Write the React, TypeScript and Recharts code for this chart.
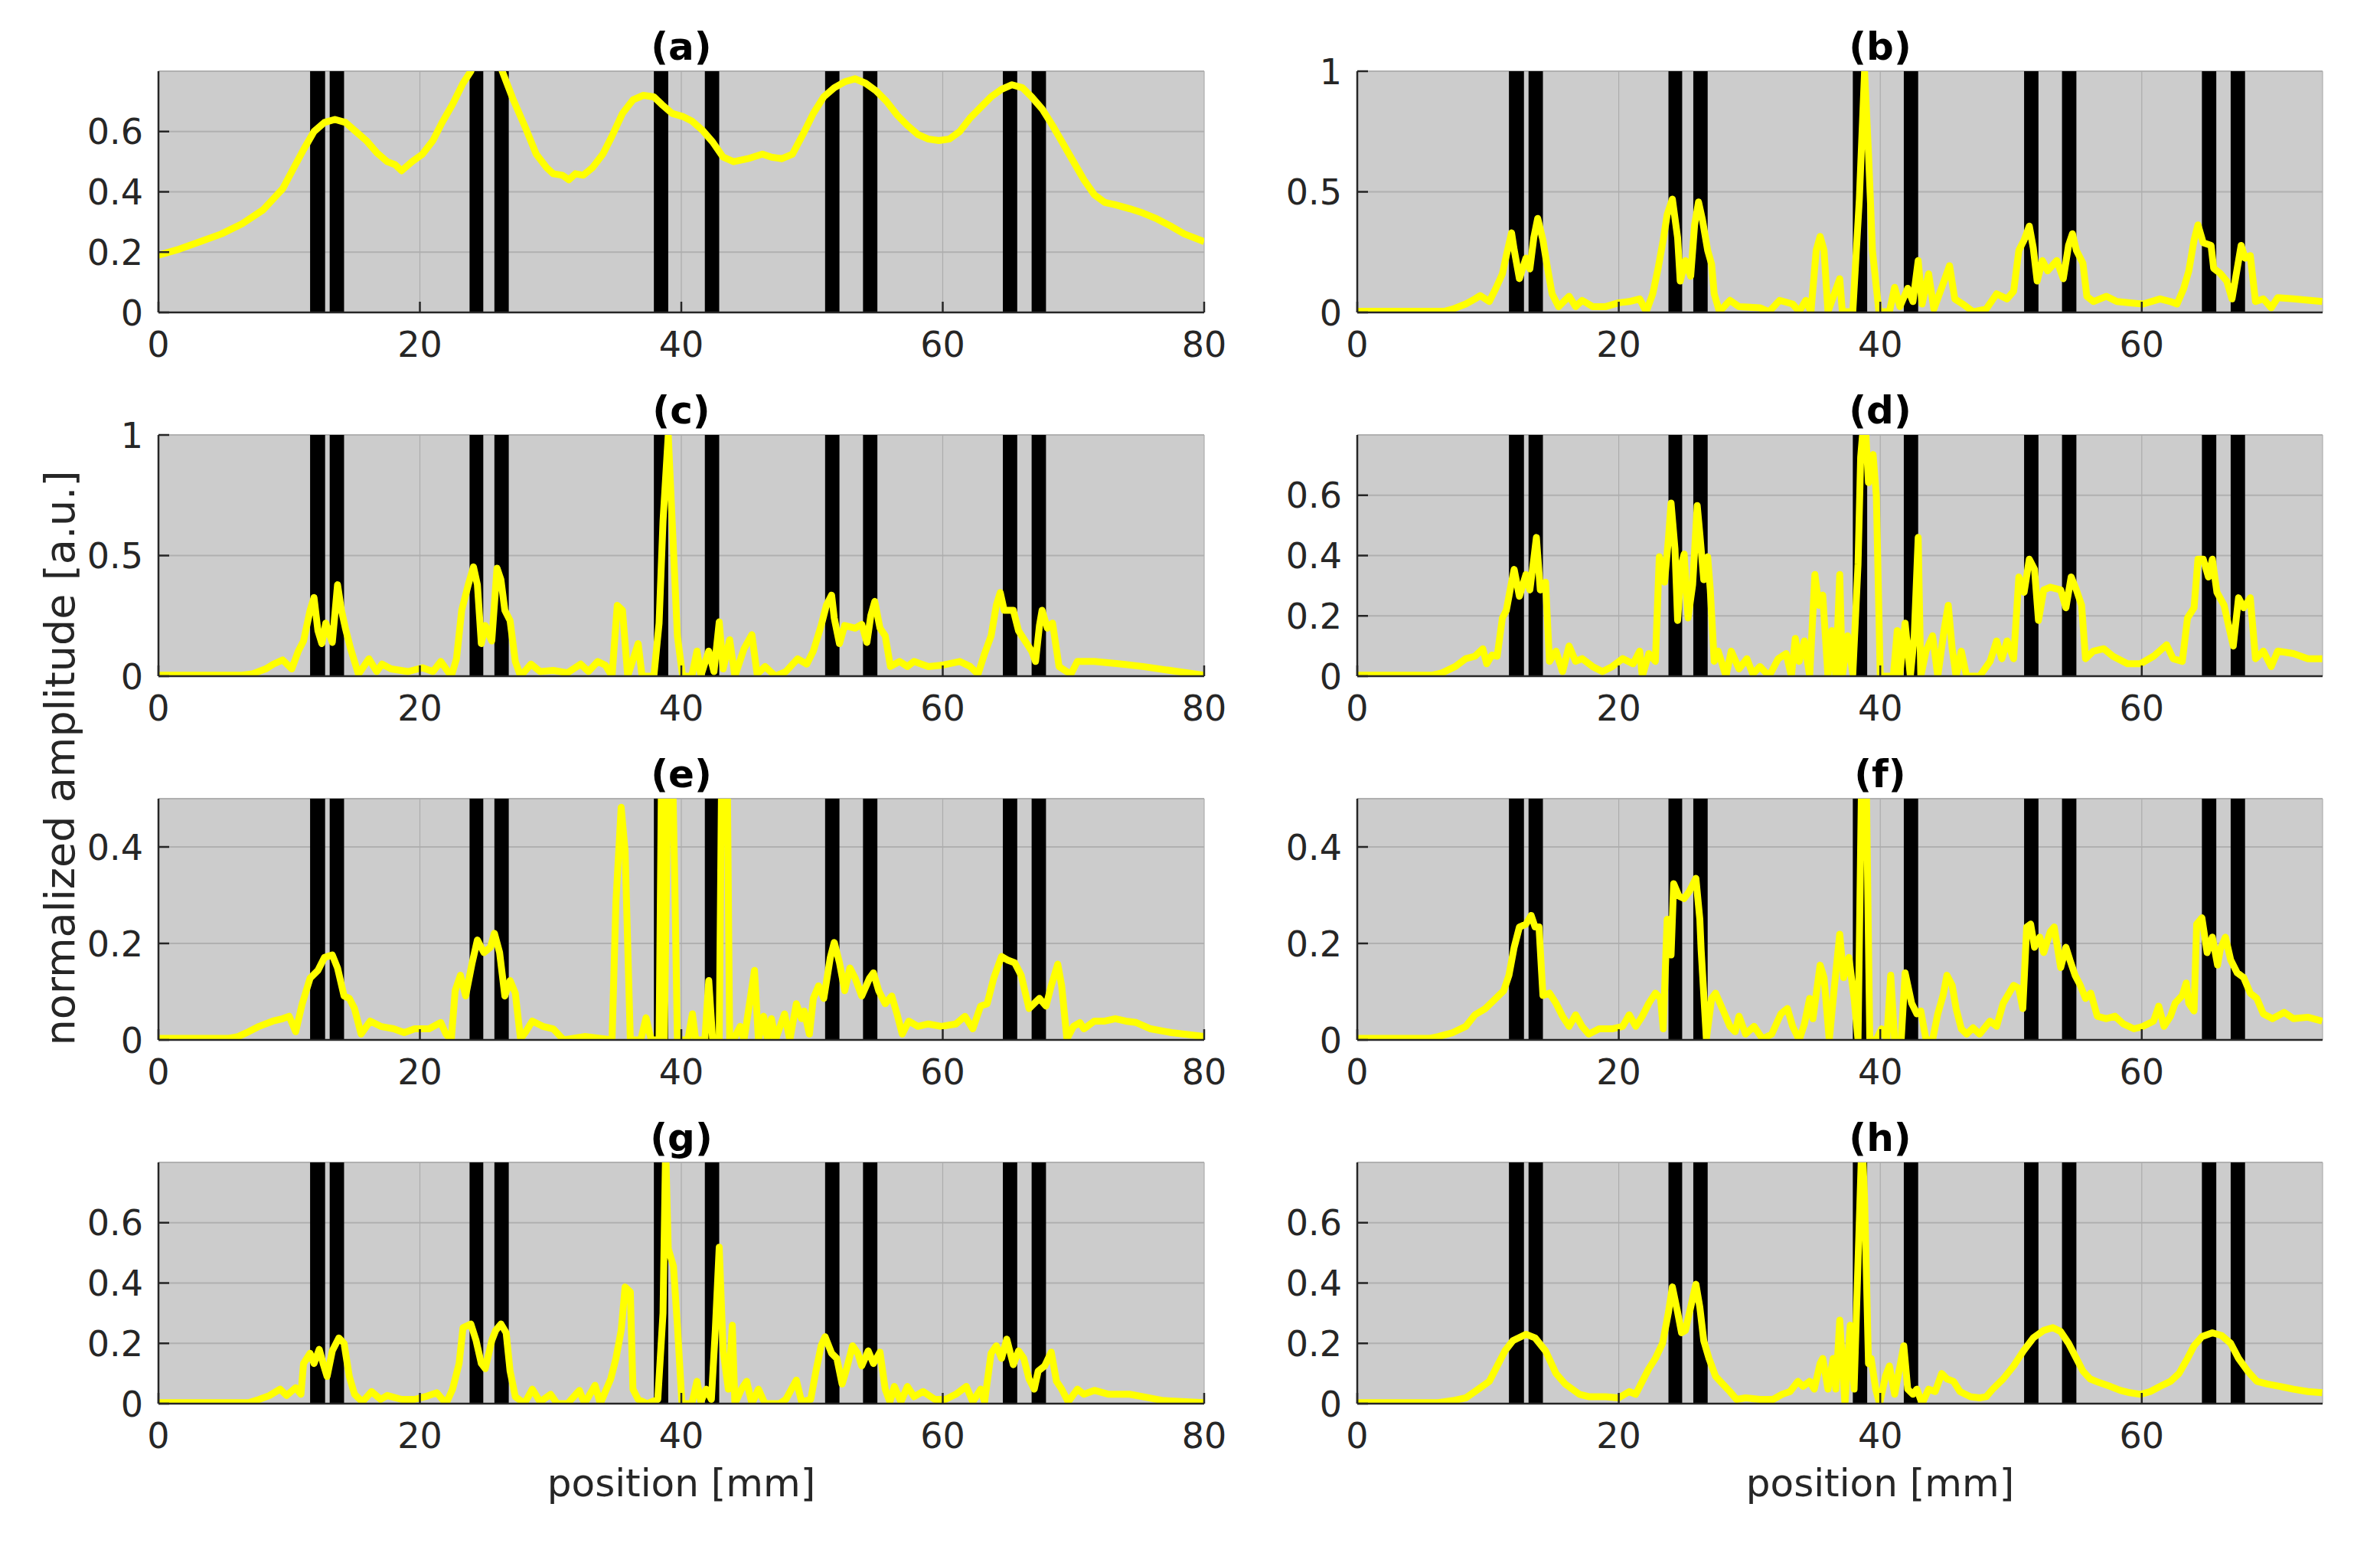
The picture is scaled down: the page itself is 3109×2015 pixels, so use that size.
import { useMemo } from 'react';
import { LineChart, Line, XAxis, YAxis, CartesianGrid, ReferenceArea } from 'recharts';

const FONT = '"DejaVu Sans", sans-serif';
const INK = '#262626';

// slit edges [mm]
const slitStart = [11.6, 13.1, 23.8, 25.7, 37.9, 41.8, 51.0, 53.9, 64.6, 66.8];
const slitEnd = [12.75, 14.2, 24.85, 26.8, 39.0, 42.9, 52.1, 55.0, 65.7, 67.9];

const xTicksLeft = [0, 20, 40, 60, 80];
const xTicksRight = [0, 20, 40, 60];
const yTicks08 = [0, 0.2, 0.4, 0.6];
const yTicks1 = [0, 0.5, 1];
const yTicks05 = [0, 0.2, 0.4];

const panelA: [number, number][] = [
  [0, 0.19], [1.6, 0.21], [3.2, 0.235], [4.8, 0.26], [6.4, 0.294], [8.0, 0.34], [9.5, 0.41], [10.3, 0.475],
  [11.1, 0.54], [11.9, 0.6], [12.7, 0.63], [13.5, 0.64], [14.3, 0.63], [15.1, 0.6], [15.9, 0.57], [16.7, 0.53],
  [17.5, 0.5], [18.1, 0.49], [18.6, 0.47], [19.4, 0.5], [20.2, 0.525], [21.0, 0.57], [21.7, 0.63], [22.5, 0.69],
  [23.3, 0.76], [23.9, 0.8], [24.5, 0.88], [25.2, 0.92], [25.8, 0.88], [26.3, 0.8], [27.1, 0.71], [28.1, 0.61],
  [28.9, 0.525], [29.7, 0.48], [30.2, 0.46], [30.9, 0.455], [31.4, 0.44], [31.9, 0.46], [32.5, 0.455], [33.2, 0.48],
  [34.0, 0.525], [34.7, 0.585], [35.5, 0.66], [36.3, 0.705], [37.1, 0.72], [37.9, 0.715], [38.5, 0.69], [39.3, 0.66],
  [40.1, 0.65], [40.8, 0.635], [41.6, 0.605], [42.4, 0.565], [43.2, 0.515], [44.0, 0.5], [45.1, 0.51], [46.2, 0.525],
  [46.9, 0.515], [47.7, 0.51], [48.5, 0.525], [49.3, 0.59], [50.1, 0.66], [50.9, 0.715], [51.7, 0.745], [52.5, 0.765],
  [53.3, 0.775], [54.1, 0.76], [54.9, 0.735], [55.7, 0.7], [56.5, 0.655], [57.3, 0.62], [58.1, 0.59], [58.9, 0.575],
  [59.7, 0.57], [60.5, 0.575], [61.3, 0.6], [62.1, 0.645], [62.9, 0.68], [63.7, 0.715], [64.5, 0.74], [65.3, 0.755],
  [66.1, 0.745], [66.8, 0.715], [67.6, 0.675], [68.4, 0.62], [69.2, 0.56], [70.0, 0.5], [70.8, 0.44], [71.6, 0.39],
  [72.4, 0.365], [73.2, 0.357], [74.3, 0.344], [75.3, 0.33], [76.4, 0.31], [77.5, 0.285], [78.5, 0.26], [80, 0.235],
];

const panelB: [number, number][] = [
  [0, 0.005], [6.7, 0.005], [7.3, 0.014], [8.3, 0.035], [9.0, 0.056], [9.4, 0.07], [10.1, 0.045], [10.6, 0.1],
  [11.1, 0.16], [11.4, 0.236], [11.8, 0.33], [12.0, 0.26], [12.4, 0.14], [12.9, 0.225], [13.2, 0.18], [13.5, 0.31],
  [13.8, 0.39], [14.2, 0.3], [14.5, 0.2], [14.9, 0.077], [15.4, 0.024], [16.2, 0.067], [16.7, 0.024], [17.2, 0.05],
  [18.0, 0.024], [19.0, 0.024], [20.0, 0.04], [20.8, 0.045], [21.6, 0.056], [22.1, 0.003], [22.6, 0.077], [23.0, 0.18],
  [23.4, 0.3], [23.7, 0.405], [24.1, 0.47], [24.5, 0.31], [24.7, 0.13], [25.1, 0.215], [25.5, 0.15], [25.8, 0.363],
  [26.1, 0.458], [26.4, 0.384], [26.8, 0.257], [27.1, 0.2], [27.3, 0.077], [27.7, 0.003], [28.5, 0.05], [29.2, 0.024],
  [30.8, 0.019], [31.5, 0.003], [32.3, 0.05], [33.3, 0.035], [33.8, 0.003], [34.3, 0.05], [34.7, 0.003], [35.1, 0.257],
  [35.4, 0.315], [35.7, 0.257], [36.0, 0.003], [36.9, 0.14], [37.1, 0.003], [37.9, 0.003], [38.4, 0.47], [38.8, 1.0],
  [39.1, 0.66], [39.4, 0.257], [39.9, 0.003], [40.7, 0.003], [41.1, 0.104], [41.5, 0.024], [42.1, 0.1], [42.5, 0.045],
  [42.9, 0.215], [43.2, 0.035], [43.7, 0.16], [44.1, 0.014], [44.6, 0.088], [45.3, 0.194], [45.7, 0.056], [46.3, 0.035],
  [47.1, 0.003], [48.1, 0.014], [48.9, 0.077], [49.7, 0.056], [50.2, 0.088], [50.6, 0.257], [51.0, 0.3], [51.4, 0.358],
  [51.7, 0.268], [52.0, 0.13], [52.4, 0.215], [52.8, 0.172], [53.5, 0.215], [54.0, 0.14], [54.4, 0.278], [54.7, 0.326],
  [55.0, 0.257], [55.5, 0.204], [55.8, 0.067], [56.3, 0.045], [57.3, 0.067], [58.1, 0.045], [59.1, 0.04], [60.1, 0.035],
  [61.4, 0.056], [62.2, 0.045], [62.7, 0.035], [63.2, 0.098], [63.6, 0.172], [64.0, 0.3], [64.3, 0.363], [64.7, 0.289],
  [65.3, 0.278], [65.5, 0.183], [66.0, 0.162], [66.5, 0.13], [66.9, 0.056], [67.2, 0.15], [67.6, 0.278], [67.9, 0.225],
  [68.3, 0.236], [68.7, 0.045], [69.3, 0.056], [69.9, 0.019], [70.4, 0.061], [71.6, 0.056], [73.8, 0.045],
];

const panelC: [number, number][] = [
  [0, 0.004], [6.4, 0.004], [7.2, 0.01], [8.2, 0.03], [8.8, 0.05], [9.5, 0.067], [10.2, 0.03], [10.7, 0.104],
  [11.1, 0.146], [11.6, 0.273], [11.9, 0.326], [12.2, 0.188], [12.5, 0.135], [12.8, 0.22], [13.3, 0.14], [13.7, 0.379],
  [14.0, 0.273], [14.3, 0.199], [14.7, 0.114], [15.3, 0.008], [16.1, 0.072], [16.7, 0.019], [17.1, 0.05], [17.8, 0.03],
  [19.1, 0.019], [20.2, 0.035], [21.0, 0.019], [21.6, 0.061], [22.4, 0.0], [22.8, 0.072], [23.2, 0.273], [23.7, 0.379],
  [24.1, 0.453], [24.4, 0.379], [24.7, 0.135], [25.0, 0.21], [25.5, 0.146], [25.9, 0.448], [26.2, 0.4], [26.5, 0.273],
  [26.9, 0.23], [27.3, 0.061], [27.7, 0.0], [28.5, 0.05], [29.2, 0.019], [30.2, 0.024], [31.3, 0.014], [32.3, 0.05],
  [32.9, 0.019], [33.6, 0.061], [34.2, 0.045], [34.7, 0.0], [35.1, 0.294], [35.5, 0.273], [35.9, 0.0], [36.7, 0.135],
  [37.0, 0.0], [37.9, 0.0], [38.3, 0.22], [38.6, 0.643], [39.0, 1.0], [39.3, 0.643], [39.7, 0.167], [40.1, 0.0],
  [40.8, 0.0], [41.2, 0.104], [41.5, 0.003], [42.1, 0.104], [42.5, 0.019], [42.9, 0.225], [43.2, 0.03], [43.7, 0.151],
  [44.1, 0.0], [44.8, 0.114], [45.4, 0.172], [45.8, 0.008], [46.4, 0.04], [47.2, 0.0], [48.0, 0.019], [48.9, 0.072],
  [49.6, 0.05], [50.1, 0.104], [50.7, 0.21], [51.1, 0.294], [51.5, 0.336], [51.7, 0.241], [52.1, 0.135], [52.5, 0.21],
  [53.3, 0.199], [53.8, 0.215], [54.2, 0.14], [54.5, 0.252], [54.8, 0.31], [55.2, 0.199], [55.6, 0.167], [56.0, 0.04],
  [56.7, 0.061], [57.3, 0.04], [57.8, 0.061], [58.9, 0.04], [59.9, 0.045], [61.3, 0.061], [62.1, 0.04], [62.7, 0.008],
  [63.2, 0.093], [63.7, 0.167], [64.1, 0.294], [64.4, 0.347], [64.7, 0.273], [65.4, 0.273], [65.8, 0.188], [66.3, 0.146],
  [66.8, 0.104], [67.1, 0.061], [67.4, 0.21], [67.6, 0.273], [68.0, 0.199], [68.4, 0.22], [68.9, 0.04], [69.8, 0.008],
  [70.3, 0.061], [71.6, 0.061], [73.7, 0.05], [75.3, 0.04], [78.0, 0.019], [80, 0.004],
];

const panelD: [number, number][] = [
  [0, 0.003], [5.7, 0.003], [6.5, 0.011], [7.5, 0.032], [8.3, 0.058], [9.0, 0.066], [9.6, 0.091], [9.9, 0.041],
  [10.3, 0.07], [10.7, 0.066], [11.1, 0.193], [11.4, 0.218], [11.75, 0.3], [12.0, 0.354], [12.4, 0.265], [12.9, 0.337],
  [13.2, 0.286], [13.5, 0.388], [13.7, 0.46], [14.0, 0.286], [14.4, 0.312], [14.7, 0.049], [15.2, 0.083], [15.7, 0.015],
  [16.2, 0.1], [16.7, 0.049], [17.2, 0.058], [18.0, 0.032], [18.75, 0.015], [19.5, 0.032], [20.3, 0.058], [21.1, 0.041],
  [21.6, 0.083], [21.8, 0.0], [22.3, 0.075], [22.8, 0.049], [23.1, 0.396], [23.5, 0.312], [23.8, 0.456], [24.0, 0.574],
  [24.3, 0.422], [24.5, 0.185], [24.8, 0.371], [25.0, 0.405], [25.3, 0.193], [25.65, 0.303], [26.0, 0.566], [26.2, 0.472],
  [26.5, 0.32], [26.8, 0.396], [27.0, 0.286], [27.3, 0.049], [27.6, 0.083], [28.2, 0.0], [28.6, 0.083], [29.2, 0.024],
  [29.8, 0.058], [30.25, 0.007], [30.8, 0.032], [31.5, 0.0], [32.2, 0.058], [32.8, 0.075], [33.2, 0.0], [33.5, 0.125],
  [33.8, 0.049], [34.2, 0.117], [34.6, 0.0], [35.0, 0.337], [35.3, 0.235], [35.6, 0.269], [36.0, 0.0], [36.3, 0.151],
  [36.6, 0.0], [36.9, 0.337], [37.1, 0.0], [37.5, 0.134], [37.9, 0.007], [38.3, 0.371], [38.5, 0.726], [38.8, 0.88],
  [39.1, 0.642], [39.45, 0.735], [39.7, 0.6], [40.0, 0.0], [41.0, 0.0], [41.3, 0.151], [41.5, 0.007], [41.9, 0.176],
  [42.3, 0.0], [42.6, 0.134], [42.9, 0.46], [43.1, 0.0], [43.5, 0.083], [44.0, 0.134], [44.4, 0.0], [44.9, 0.159],
  [45.2, 0.235], [45.5, 0.091], [45.8, 0.0], [46.2, 0.083], [46.6, 0.0], [47.6, 0.0], [48.4, 0.049], [48.9, 0.117],
  [49.3, 0.058], [49.7, 0.117], [50.2, 0.058], [50.6, 0.329], [51.0, 0.278], [51.4, 0.388], [51.8, 0.354], [52.1, 0.185],
  [52.5, 0.286], [53.0, 0.295], [53.8, 0.286], [54.2, 0.227], [54.6, 0.329], [55.0, 0.286], [55.4, 0.235], [55.7, 0.058],
  [56.3, 0.083], [57.1, 0.091], [57.8, 0.066], [58.9, 0.041], [59.9, 0.041], [60.9, 0.066], [61.9, 0.104], [62.4, 0.058],
  [63.1, 0.049], [63.5, 0.193], [64.0, 0.227], [64.3, 0.388], [64.7, 0.388], [65.1, 0.329], [65.4, 0.388], [65.75, 0.278],
  [66.3, 0.235], [66.6, 0.176], [67.0, 0.1], [67.4, 0.26], [67.8, 0.227], [68.3, 0.26], [68.7, 0.058], [69.3, 0.083],
  [69.9, 0.032], [70.4, 0.083], [71.6, 0.075], [72.7, 0.058], [73.8, 0.058],
];

const panelE: [number, number][] = [
  [0, 0.003], [5.3, 0.003], [6.1, 0.007], [6.9, 0.017], [7.7, 0.028], [8.75, 0.039], [9.5, 0.044], [10.0, 0.049],
  [10.5, 0.017], [11.0, 0.075], [11.6, 0.128], [12.2, 0.144], [12.7, 0.171], [13.3, 0.176], [13.7, 0.149], [14.2, 0.091],
  [14.6, 0.086], [15.0, 0.065], [15.5, 0.012], [16.2, 0.039], [17.0, 0.028], [18.0, 0.023], [18.8, 0.015], [19.6, 0.023],
  [20.7, 0.023], [21.6, 0.036], [22.0, 0.012], [22.4, 0.0], [22.7, 0.102], [23.1, 0.134], [23.5, 0.091], [24.0, 0.16],
  [24.4, 0.207], [24.9, 0.181], [25.4, 0.192], [25.7, 0.221], [26.1, 0.181], [26.5, 0.091], [26.9, 0.123], [27.3, 0.097],
  [27.7, 0.002], [28.1, 0.017], [28.6, 0.039], [29.4, 0.028], [30.2, 0.023], [31.0, 0.0], [32.6, 0.007], [34.7, 0.0],
  [35.0, 0.287], [35.4, 0.482], [35.7, 0.392], [36.1, 0.0], [36.9, 0.0], [37.3, 0.046], [37.7, 0.0], [38.3, 0.0],
  [38.5, 0.6], [38.7, 0.0], [39.0, 0.6], [39.3, 0.6], [39.5, 0.33], [39.7, 0.0], [40.5, 0.0], [40.85, 0.054],
  [41.1, 0.0], [41.8, 0.0], [42.1, 0.123], [42.4, 0.0], [42.9, 0.0], [43.1, 0.6], [43.5, 0.6], [43.7, 0.0],
  [44.0, 0.0], [44.5, 0.028], [44.8, 0.0], [45.6, 0.144], [45.9, 0.0], [46.3, 0.049], [46.6, 0.0], [46.9, 0.044],
  [47.2, 0.0], [47.9, 0.054], [48.3, 0.0], [48.8, 0.075], [49.2, 0.044], [49.4, 0.06], [49.8, 0.012], [50.1, 0.086],
  [50.5, 0.112], [50.9, 0.086], [51.4, 0.171], [51.7, 0.202], [52.1, 0.16], [52.5, 0.102], [52.9, 0.149], [53.3, 0.128],
  [53.8, 0.091], [54.4, 0.128], [54.7, 0.139], [55.1, 0.102], [55.6, 0.075], [56.1, 0.091], [56.5, 0.054], [56.9, 0.012],
  [57.4, 0.039], [58.1, 0.028], [58.9, 0.033], [59.9, 0.028], [61.0, 0.033], [61.7, 0.049], [62.3, 0.023], [62.9, 0.07],
  [63.4, 0.075], [63.9, 0.128], [64.5, 0.173], [65.0, 0.165], [65.5, 0.16], [66.0, 0.134], [66.6, 0.065], [66.9, 0.073],
  [67.4, 0.086], [67.9, 0.07], [68.3, 0.112], [68.8, 0.157], [69.1, 0.112], [69.5, 0.002], [70.0, 0.028], [70.5, 0.036],
  [70.8, 0.023], [71.6, 0.039], [72.4, 0.039], [73.2, 0.044], [74.0, 0.039], [74.8, 0.036], [75.9, 0.023], [77.5, 0.015],
  [80, 0.007],
];

const panelF: [number, number][] = [
  [0, 0.003], [5.5, 0.003], [6.2, 0.007], [7.3, 0.015], [8.3, 0.028], [9.0, 0.052], [9.8, 0.065], [10.6, 0.086],
  [11.2, 0.102], [11.6, 0.134], [12.0, 0.192], [12.4, 0.234], [12.9, 0.24], [13.3, 0.258], [13.6, 0.234], [13.9, 0.234],
  [14.2, 0.092], [14.7, 0.097], [15.2, 0.076], [15.7, 0.049], [16.2, 0.028], [16.7, 0.052], [17.2, 0.028], [17.7, 0.012],
  [18.5, 0.023], [19.5, 0.023], [20.3, 0.028], [20.8, 0.052], [21.3, 0.028], [21.8, 0.049], [22.3, 0.076], [22.8, 0.097],
  [23.2, 0.086], [23.4, 0.023], [23.7, 0.25], [24.0, 0.176], [24.2, 0.324], [24.6, 0.298], [25.0, 0.293], [25.4, 0.308],
  [25.9, 0.335], [26.2, 0.25], [26.3, 0.187], [26.7, 0.002], [27.1, 0.086], [27.4, 0.097], [28.0, 0.06], [28.5, 0.028],
  [28.9, 0.017], [29.2, 0.049], [29.7, 0.012], [30.35, 0.028], [31.0, 0.002], [31.7, 0.012], [32.4, 0.054], [32.9, 0.065],
  [33.3, 0.028], [33.8, 0.0], [34.2, 0.033], [34.6, 0.086], [34.85, 0.044], [35.4, 0.155], [35.7, 0.129], [36.1, 0.0],
  [36.5, 0.113], [36.9, 0.219], [37.2, 0.129], [37.6, 0.171], [38.0, 0.086], [38.3, 0.0], [38.6, 0.6], [38.9, 0.6],
  [39.2, 0.0], [39.7, 0.0], [40.1, 0.023], [40.5, 0.0], [40.8, 0.134], [41.1, 0.0], [41.6, 0.0], [41.9, 0.139],
  [42.4, 0.076], [42.8, 0.054], [43.1, 0.06], [43.5, 0.0], [44.0, 0.0], [44.4, 0.054], [44.8, 0.092], [45.1, 0.134],
  [45.5, 0.113], [45.8, 0.065], [46.2, 0.023], [46.6, 0.012], [47.1, 0.025], [47.6, 0.012], [48.4, 0.039], [48.9, 0.028],
  [49.4, 0.076], [50.2, 0.113], [50.6, 0.107], [50.9, 0.065], [51.2, 0.234], [51.5, 0.24], [51.8, 0.192], [52.2, 0.213],
  [52.5, 0.181], [53.0, 0.224], [53.3, 0.234], [53.8, 0.15], [54.2, 0.192], [54.5, 0.166], [54.9, 0.134], [55.3, 0.113],
  [55.7, 0.086], [56.1, 0.097], [56.6, 0.049], [57.3, 0.044], [57.95, 0.049], [58.6, 0.033], [59.4, 0.023], [60.1, 0.028],
  [60.9, 0.039], [61.3, 0.07], [61.7, 0.028], [62.2, 0.049], [62.55, 0.076], [63.1, 0.092], [63.4, 0.118], [63.6, 0.076],
  [64.0, 0.06], [64.2, 0.24], [64.6, 0.253], [65.0, 0.181], [65.4, 0.213], [65.8, 0.155], [66.0, 0.187], [66.4, 0.213],
  [66.8, 0.166], [67.3, 0.139], [67.8, 0.129], [68.3, 0.097], [68.8, 0.086], [69.3, 0.054], [70.0, 0.044], [70.9, 0.057],
  [71.6, 0.044], [72.7, 0.047], [73.8, 0.039],
];

const panelG: [number, number][] = [
  [0, 0.003], [6.9, 0.003], [7.7, 0.014], [8.5, 0.027], [9.3, 0.048], [9.8, 0.027], [10.5, 0.053], [10.9, 0.031],
  [11.1, 0.133], [11.6, 0.167], [11.9, 0.133], [12.3, 0.18], [12.6, 0.133], [12.9, 0.09], [13.3, 0.175], [13.8, 0.218],
  [14.2, 0.2], [14.6, 0.09], [15.0, 0.031], [15.6, 0.006], [16.3, 0.04], [17.0, 0.014], [17.5, 0.027], [18.6, 0.014],
  [19.6, 0.014], [20.4, 0.023], [21.3, 0.036], [22.0, 0.0], [22.5, 0.048], [23.0, 0.133], [23.3, 0.252], [23.9, 0.264],
  [24.3, 0.209], [24.7, 0.133], [25.0, 0.116], [25.5, 0.209], [25.8, 0.243], [26.2, 0.264], [26.6, 0.235], [26.9, 0.108],
  [27.3, 0.023], [28.0, 0.0], [28.6, 0.048], [29.2, 0.006], [30.0, 0.031], [30.5, 0.0], [31.3, 0.0], [32.2, 0.044],
  [32.6, 0.0], [33.4, 0.061], [33.8, 0.0], [34.6, 0.082], [35.0, 0.15], [35.4, 0.243], [35.7, 0.387], [36.1, 0.37],
  [36.3, 0.048], [36.7, 0.014], [37.4, 0.0], [38.2, 0.014], [38.6, 0.3], [38.8, 0.85], [39.0, 0.514], [39.4, 0.455],
  [39.7, 0.26], [40.05, 0.0], [40.8, 0.0], [41.2, 0.074], [41.5, 0.006], [41.9, 0.048], [42.3, 0.014], [42.6, 0.243],
  [42.9, 0.519], [43.2, 0.175], [43.6, 0.048], [43.9, 0.26], [44.1, 0.0], [44.6, 0.048], [45.0, 0.074], [45.4, 0.0],
  [45.9, 0.048], [46.4, 0.0], [47.5, 0.0], [48.0, 0.014], [48.8, 0.078], [49.2, 0.006], [49.9, 0.014], [50.3, 0.108],
  [50.7, 0.192], [51.0, 0.222], [51.5, 0.167], [51.9, 0.15], [52.3, 0.065], [52.6, 0.108], [53.1, 0.192], [53.5, 0.167],
  [53.8, 0.125], [54.3, 0.175], [54.7, 0.133], [55.2, 0.171], [55.6, 0.048], [55.96, 0.006], [56.3, 0.057], [56.8, 0.006],
  [57.3, 0.057], [57.8, 0.023], [58.5, 0.04], [59.4, 0.014], [60.2, 0.014], [61.0, 0.031], [61.8, 0.057], [62.3, 0.006],
  [62.9, 0.048], [63.2, 0.006], [63.7, 0.167], [64.1, 0.192], [64.5, 0.15], [64.9, 0.214], [65.4, 0.129], [65.8, 0.175],
  [66.2, 0.15], [66.6, 0.082], [67.0, 0.048], [67.3, 0.108], [67.8, 0.125], [68.3, 0.171], [68.7, 0.074], [69.1, 0.048],
  [69.6, 0.006], [70.3, 0.048], [70.8, 0.031], [71.6, 0.044], [72.7, 0.031], [74.3, 0.031], [75.3, 0.023], [76.9, 0.01],
  [80, 0.003],
];

const panelH: [number, number][] = [
  [0, 0.003], [6.2, 0.003], [7.3, 0.01], [8.3, 0.019], [9.0, 0.04], [10.1, 0.074], [10.8, 0.133], [11.3, 0.175],
  [11.9, 0.209], [12.9, 0.23], [13.6, 0.218], [14.4, 0.175], [15.2, 0.1], [15.9, 0.065], [17.0, 0.031], [17.7, 0.023],
  [19.0, 0.023], [20.0, 0.019], [20.8, 0.04], [21.3, 0.031], [21.8, 0.074], [22.3, 0.116], [22.8, 0.15], [23.35, 0.2],
  [23.8, 0.303], [24.1, 0.387], [24.5, 0.303], [24.8, 0.235], [25.1, 0.243], [25.5, 0.32], [25.9, 0.396], [26.2, 0.32],
  [26.5, 0.209], [26.9, 0.15], [27.4, 0.091], [27.95, 0.065], [28.5, 0.04], [29.0, 0.014], [29.7, 0.019], [30.8, 0.014],
  [31.8, 0.014], [32.5, 0.031], [33.1, 0.04], [33.7, 0.074], [34.1, 0.057], [34.6, 0.074], [34.95, 0.048], [35.4, 0.133],
  [35.6, 0.15], [36.0, 0.048], [36.4, 0.15], [36.6, 0.048], [36.9, 0.277], [37.3, 0.0], [37.7, 0.26], [38.0, 0.048],
  [38.3, 0.472], [38.6, 0.88], [38.8, 0.684], [39.1, 0.133], [39.3, 0.15], [39.65, 0.048], [39.95, 0.0], [40.4, 0.091],
  [40.7, 0.125], [41.1, 0.031], [41.4, 0.1], [41.8, 0.192], [42.1, 0.048], [42.5, 0.031], [42.8, 0.048], [43.2, 0.0],
  [43.7, 0.048], [44.2, 0.04], [44.7, 0.1], [45.1, 0.082], [45.6, 0.074], [46.1, 0.04], [46.9, 0.023], [47.6, 0.019],
  [48.1, 0.023], [48.6, 0.048], [49.4, 0.082], [50.2, 0.125], [50.95, 0.175], [51.7, 0.218], [52.5, 0.243], [53.2, 0.252],
  [53.8, 0.239], [54.4, 0.2], [55.0, 0.15], [55.5, 0.108], [56.05, 0.082], [56.8, 0.069], [57.6, 0.057], [58.35, 0.044],
  [59.1, 0.036], [59.9, 0.031], [60.65, 0.04], [61.4, 0.057], [62.2, 0.074], [62.85, 0.1], [63.5, 0.15], [64.0, 0.192],
  [64.6, 0.222], [65.4, 0.235], [66.1, 0.226], [66.8, 0.2], [67.4, 0.15], [68.1, 0.108], [68.8, 0.074], [69.6, 0.065],
  [70.6, 0.057], [71.6, 0.048], [72.7, 0.04], [73.8, 0.036],
];

// page layout (px)
const colLeft = [207, 1773];
const colWidth = [1366, 1261];
const colXMax = [80, 73.83];
const colCenter = [890, 2456];
const rowTop = [92.5, 567.7, 1042.5, 1517.7];
const PLOT_H = 315;

const panels = [
  { title: '(a)', points: panelA, yMax: 0.8, yTicks: yTicks08, col: 0, row: 0 },
  { title: '(b)', points: panelB, yMax: 1, yTicks: yTicks1, col: 1, row: 0 },
  { title: '(c)', points: panelC, yMax: 1, yTicks: yTicks1, col: 0, row: 1 },
  { title: '(d)', points: panelD, yMax: 0.8, yTicks: yTicks08, col: 1, row: 1 },
  { title: '(e)', points: panelE, yMax: 0.5, yTicks: yTicks05, col: 0, row: 2 },
  { title: '(f)', points: panelF, yMax: 0.5, yTicks: yTicks05, col: 1, row: 2 },
  { title: '(g)', points: panelG, yMax: 0.8, yTicks: yTicks08, col: 0, row: 3 },
  { title: '(h)', points: panelH, yMax: 0.8, yTicks: yTicks08, col: 1, row: 3 },
];

const TICK_LEN = 14;
const TICK_FONT = 46;

const BottomTick = ({ x, y, payload }: any) => (
  <g>
    <line x1={x} y1={y} x2={x} y2={y - TICK_LEN} stroke={INK} strokeWidth={2.5} />
    <text x={x} y={y + 58} textAnchor="middle" fontSize={TICK_FONT} fontFamily={FONT} fill={INK}>
      {payload.value}
    </text>
  </g>
);

const TopTick = ({ x, y }: any) => (
  <line x1={x} y1={y} x2={x} y2={y + TICK_LEN} stroke={INK} strokeWidth={2.5} />
);

const LeftTick = ({ x, y, payload }: any) => (
  <g>
    <line x1={x} y1={y} x2={x + TICK_LEN} y2={y} stroke={INK} strokeWidth={2.5} />
    <text x={x - 20} y={y + 16.5} textAnchor="end" fontSize={TICK_FONT} fontFamily={FONT} fill={INK}>
      {String(payload.value)}
    </text>
  </g>
);

const RightTick = ({ x, y }: any) => (
  <line x1={x - TICK_LEN} y1={y} x2={x} y2={y} stroke={INK} strokeWidth={2.5} />
);

const ML = 130;
const MT = 40;
const MR = 60;
const MB = 80;

const Panel = ({ points, yMax, yTicks, col, row }: any) => {
  const data = useMemo(() => points.map(([x, y]: [number, number]) => ({ x, y })), [points]);
  const plotW = colWidth[col];
  const xMax = colXMax[col];
  const xTicks = col === 0 ? xTicksLeft : xTicksRight;
  const axisLine = { stroke: INK, strokeWidth: 2.5 };

  return (
    <div style={{ position: 'absolute', left: colLeft[col] - ML, top: rowTop[row] - MT }}>
      <LineChart
        width={plotW + ML + MR}
        height={PLOT_H + MT + MB}
        data={data}
        margin={{ top: MT, right: MR, bottom: 0, left: 0 }}
      >
        <CartesianGrid vertical={false} fill="#cccccc" fillOpacity={1} stroke="#b0b0b0" strokeWidth={2} />
        <CartesianGrid horizontal={false} stroke="#acacac" strokeWidth={1.2} />
        {slitStart.map((s, i) => (
          <ReferenceArea
            key={i}
            x1={s}
            x2={slitEnd[i]}
            fill="#000000"
            fillOpacity={1}
            stroke="none"
            ifOverflow="hidden"
          />
        ))}
        <XAxis
          type="number"
          dataKey="x"
          domain={[0, xMax]}
          ticks={xTicks}
          allowDataOverflow
          interval={0}
          height={MB}
          tickSize={0}
          tickMargin={0}
          tickLine={false}
          axisLine={axisLine}
          tick={(p: any) => <BottomTick {...p} />}
        />
        <XAxis
          xAxisId="top"
          orientation="top"
          type="number"
          dataKey="x"
          domain={[0, xMax]}
          ticks={xTicks}
          allowDataOverflow
          interval={0}
          height={0}
          tickSize={0}
          tickMargin={0}
          tickLine={false}
          axisLine={axisLine}
          tick={(p: any) => <TopTick {...p} />}
        />
        <YAxis
          type="number"
          domain={[0, yMax]}
          ticks={yTicks}
          allowDataOverflow
          interval={0}
          width={ML}
          tickSize={0}
          tickMargin={0}
          tickLine={false}
          axisLine={axisLine}
          tick={(p: any) => <LeftTick {...p} />}
        />
        <YAxis
          yAxisId="right"
          orientation="right"
          type="number"
          domain={[0, yMax]}
          ticks={yTicks}
          allowDataOverflow
          interval={0}
          width={0}
          tickSize={0}
          tickMargin={0}
          tickLine={false}
          axisLine={axisLine}
          tick={(p: any) => <RightTick {...p} />}
        />
        <Line
          type="linear"
          dataKey="y"
          stroke="#ffff00"
          strokeWidth={9}
          strokeLinejoin="round"
          dot={false}
          activeDot={false}
          isAnimationActive={false}
        />
      </LineChart>
    </div>
  );
};

export default function App() {
  return (
    <div
      style={{
        position: 'absolute',
        left: 0,
        top: 0,
        width: 3109,
        height: 2015,
        background: '#ffffff',
        fontFamily: FONT,
        overflow: 'hidden',
      }}
    >
      {panels.map((p) => (
        <Panel key={p.title} {...p} />
      ))}
      <svg
        width={3109}
        height={2015}
        style={{ position: 'absolute', left: 0, top: 0, pointerEvents: 'none' }}
      >
        {panels.map((p) => (
          <text
            key={p.title}
            x={colCenter[p.col]}
            y={rowTop[p.row] - 15}
            textAnchor="middle"
            fontSize={50}
            fontWeight="bold"
            fontFamily={FONT}
            fill="#000000"
          >
            {p.title}
          </text>
        ))}
        {[0, 1].map((c) => (
          <text
            key={c}
            x={colCenter[c]}
            y={rowTop[3] + PLOT_H + 121}
            textAnchor="middle"
            fontSize={50}
            fontFamily={FONT}
            fill={INK}
          >
            position [mm]
          </text>
        ))}
        <text
          x={97}
          y={990}
          transform="rotate(-90 97 990)"
          textAnchor="middle"
          fontSize={54}
          fontFamily={FONT}
          fill={INK}
        >
          normalized amplitude [a.u.]
        </text>
      </svg>
    </div>
  );
}
